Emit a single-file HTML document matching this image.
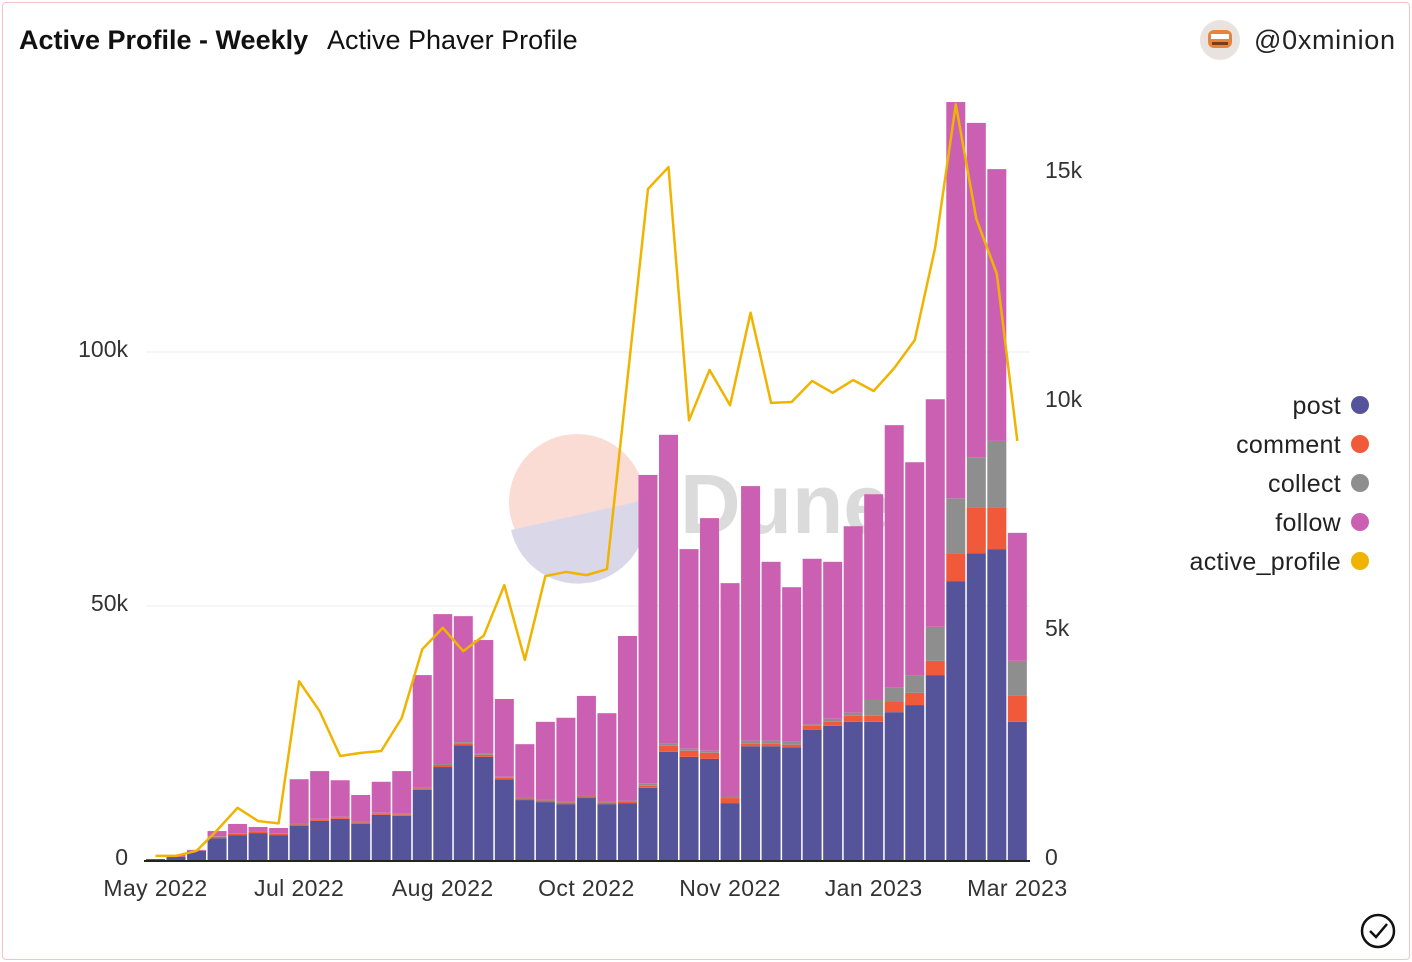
<!DOCTYPE html>
<html><head><meta charset="utf-8"><style>
html,body{margin:0;padding:0;background:#fff;}
body{width:1412px;height:962px;overflow:hidden;font-family:"Liberation Sans",sans-serif;}
#frame{position:absolute;left:2px;top:2px;width:1406px;height:956px;border:1px solid #f3c4c4;border-radius:4px;}
</style></head><body>
<div id="frame"></div>
<svg id="chart" width="1412" height="962" style="position:absolute;left:0;top:0">
<text x="19" y="49" font-size="27" font-weight="bold" fill="#111">Active Profile - Weekly</text>
<text x="327" y="49" font-size="27" fill="#111">Active Phaver Profile</text>
<g>
<circle cx="1220" cy="40" r="20" fill="#e8e3df"/>
<rect x="1208" y="30" width="24" height="18" rx="6" fill="#e8833a"/>
<rect x="1211" y="34" width="18" height="5" fill="#fff"/>
<rect x="1212" y="42" width="16" height="3" fill="#7a3b1c"/>
</g>
<text x="1254" y="49" font-size="27" fill="#222" textLength="141">@0xminion</text>
<g opacity="0.9">
<circle cx="577" cy="502" r="68" fill="#fbd9d0"/>
<path d="M511,530 L645,500 A68,68 0 0 1 511,530 Z" fill="#d7d4e6"/>
<text x="680" y="533" font-size="84" font-weight="bold" fill="#d8d8d8">Dune</text>
</g>
<g id="grid"></g><g id="bars"></g><g id="line"></g><g id="axes"></g>
<g id="legend"></g>
<g>
<circle cx="1378" cy="931" r="16" fill="none" stroke="#111" stroke-width="2.5"/>
<path d="M1370,931 L1376,937 L1387,924" fill="none" stroke="#111" stroke-width="2.5"/>
</g>
</svg>
<script>
const xLabels=["May 2022","Jul 2022","Aug 2022","Oct 2022","Nov 2022","Jan 2023","Mar 2023"];
const xLabelIdx=[0,7,14,21,28,35,42];
const leftTicks=[0,50000,100000];
const leftTickLabels=["0","50k","100k"];
const rightTicks=[0,5000,10000,15000];
const rightTickLabels=["0","5k","10k","15k"];
const post=[0.2,0.6,1.8,4.3,4.9,5.3,4.9,6.7,7.7,8.1,7.1,8.9,8.7,13.8,18.3,22.6,20.3,15.9,11.8,11.4,11.0,12.2,11.0,11.2,14.2,21.3,20.3,19.9,11.2,22.4,22.4,22.2,25.6,26.4,27.2,27.2,29.1,30.5,36.4,54.9,60.4,61.2,27.2];
const comment=[0,0,0,0.3,0.3,0.3,0.3,0.3,0.3,0.3,0.3,0.3,0.3,0.3,0.4,0.4,0.4,0.3,0.3,0.3,0.3,0.3,0.3,0.3,0.4,1.2,1.2,1.2,1.0,0.5,0.5,0.5,0.8,0.8,1.2,1.2,2.0,2.4,2.8,5.5,8.9,8.1,5.1];
const collect=[0,0,0,0.1,0.1,0.1,0.1,0.1,0.1,0.1,0.1,0.1,0.1,0.1,0.2,0.2,0.2,0.2,0.2,0.2,0.2,0.2,0.2,0.2,0.5,0.4,0.4,0.4,0.3,0.6,0.6,0.6,0.3,0.6,0.6,3.1,2.8,3.5,6.7,10.8,10.0,13.2,6.9];
const total=[0.2,1,2,5.7,7.1,6.5,6.3,15.9,17.5,15.7,12.8,15.4,17.5,36.4,48.4,48.0,43.3,31.7,22.8,27.2,28.0,32.3,28.9,44.1,75.8,83.7,61.2,67.3,54.5,73.6,58.7,53.7,59.3,58.7,65.7,72.0,85.6,78.3,90.7,149.2,145.1,136.0,64.4];
const activeProfile=[0.09,0.09,0.2,0.65,1.14,0.85,0.8,3.9,3.25,2.27,2.34,2.38,3.1,4.6,5.07,4.56,4.9,6.0,4.37,6.2,6.29,6.22,6.35,10.5,14.65,15.13,9.6,10.7,9.93,11.95,9.98,10.0,10.46,10.2,10.48,10.24,10.74,11.35,13.38,16.5,14.0,12.8,9.15];
const NS="http://www.w3.org/2000/svg";
function mk(t,a,p){const e=document.createElementNS(NS,t);for(const k in a)e.setAttribute(k,a[k]);p.appendChild(e);return e;}
const y0=860;
const yL=v=>y0-v*254/50000;
const yR=v=>y0-v*229/5000;
const xL=i=>146+i*20.52;
const bw=19;
const G=document.getElementById('grid'),B=document.getElementById('bars'),L=document.getElementById('line'),A=document.getElementById('axes'),LG=document.getElementById('legend');
leftTicks.forEach((t,i)=>{
  if(t>0){const g=mk('line',{x1:146,x2:1030,y1:yL(t),y2:yL(t),stroke:'#ececec','stroke-width':1},G);
  
  }
  const tx=mk('text',{x:128,y:yL(t)+5,'font-size':23,fill:'#333','text-anchor':'end'},A);tx.textContent=leftTickLabels[i];
  
  
});
rightTicks.forEach((t,i)=>{
  const tx=mk('text',{x:1045,y:yR(t)+5,'font-size':23,fill:'#333'},A);tx.textContent=rightTickLabels[i];
  
  
});
const cols={post:'#55549a',comment:'#f0593a',collect:'#8e8e8e',follow:'#cb5fb2'};
for(let i=0;i<total.length;i++){
  const p=post[i]*1000,c=comment[i]*1000,co=collect[i]*1000,t=total[i]*1000;
  const f=Math.max(0,t-p-c-co);
  const segs=[['post',p],['comment',c],['collect',co],['follow',f]];
  let base=0;
  segs.forEach(([n,v])=>{
    if(v<=0)return;
    const r=mk('rect',{x:xL(i),width:bw,y:yL(base+v),height:yL(base)-yL(base+v),fill:cols[n]},B);
    
    
    base+=v;
  });
}
let d='';
activeProfile.forEach((v,i)=>{d+=(i?'L':'M')+(xL(i)+bw/2)+','+yR(v*1000);});
const ln=mk('path',{d:d,fill:'none',stroke:'#f0b400','stroke-width':2.5,'stroke-linejoin':'round'},L);


const ax=mk('line',{x1:144,x2:1030,y1:y0+1,y2:y0+1,stroke:'#222','stroke-width':2},A);


xLabelIdx.forEach((idx,i)=>{
  const tx=mk('text',{x:xL(idx)+bw/2,y:896,'font-size':23,fill:'#333','text-anchor':'middle','letter-spacing':'0.4'},A);tx.textContent=xLabels[i];
  
  
});
const leg=[['post','#55549a'],['comment','#f0593a'],['collect','#8e8e8e'],['follow','#cb5fb2'],['active_profile','#f0b400']];
leg.forEach(([n,c],i)=>{
  const y=405+i*39;
  const g=mk('g',{},LG);
  
  
  const t=mk('text',{x:1341,y:y+9,'font-size':25,fill:'#222','text-anchor':'end','letter-spacing':'0.3'},g);t.textContent=n;
  mk('circle',{cx:1360,cy:y,r:9,fill:c},g);
});
</script>
</body></html>
